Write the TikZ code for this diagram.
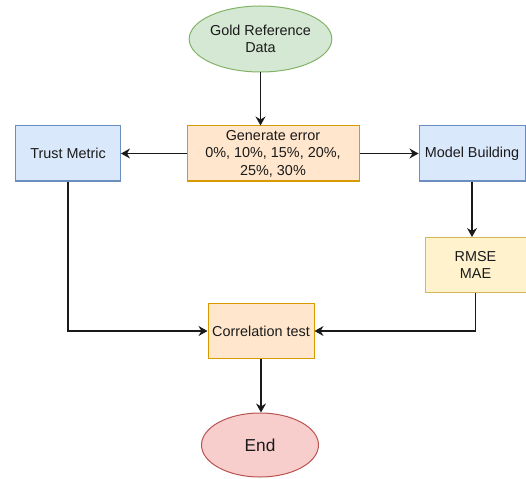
\documentclass[tikz,border=0pt]{standalone}
\usepackage{fontspec}
\setmainfont{Liberation Sans}
\usetikzlibrary{shapes.geometric,arrows.meta}
\definecolor{greenfill}{HTML}{D5E8D4}\definecolor{greenline}{HTML}{82B366}
\definecolor{orangefill}{HTML}{FFE6CC}\definecolor{orangeline}{HTML}{D79B00}
\definecolor{bluefill}{HTML}{DAE8FC}\definecolor{blueline}{HTML}{6C8EBF}
\definecolor{yellowfill}{HTML}{FFF2CC}\definecolor{yellowline}{HTML}{D6B656}
\definecolor{redfill}{HTML}{F8CECC}\definecolor{redline}{HTML}{B85450}
\definecolor{ink}{HTML}{1A1A1A}
\tikzset{
  base/.style={line width=1pt, inner sep=0pt, align=center, text=ink,
    font=\fontsize{14.4}{17.5}\selectfont},
  boxnode/.style={base, rectangle, minimum height=55pt},
  oval/.style={base, ellipse},
  flow/.style={line width=1.2pt, draw=ink,
    -{Stealth[length=9pt,width=10pt,inset=3pt]}},
}
\begin{document}
\begin{tikzpicture}[x=1pt,y=-1pt]
\useasboundingbox (0,0) rectangle (526,478);
\node[oval, fill=greenfill, draw=greenline, minimum width=116pt, minimum height=66pt]
  (gold) at (260.5,39) {Gold Reference\\Data};
\node[boxnode, fill=orangefill, draw=orangeline, minimum width=172pt]
  (gen) at (273,153.5) {Generate error\\0\%, 10\%, 15\%, 20\%,\\25\%, 30\%};
\node[boxnode, fill=bluefill, draw=blueline, minimum width=105pt]
  (trust) at (68,153.5) {Trust Metric};
\node[boxnode, fill=bluefill, draw=blueline, minimum width=106pt]
  (model) at (472,153.5) {Model Building};
\node[boxnode, fill=yellowfill, draw=yellowline, minimum width=101pt]
  (rmse) at (475.5,265) {RMSE\\MAE};
\node[boxnode, fill=orangefill, draw=orangeline, minimum width=106pt]
  (corr) at (261,331) {Correlation test};
\node[oval, fill=redfill, draw=redline, minimum width=117pt, minimum height=64pt,
  font=\fontsize{17.3}{20}\selectfont]
  (end) at (260,445) {End};

\draw[flow] (gold.south) -- (gold.south |- gen.north);
\draw[flow] (gen.west) -- (trust.east);
\draw[flow] (gen.east) -- (model.west);
\draw[flow] (model.south) -- (model.south |- rmse.north);
\draw[flow] (trust.south) |- (corr.west);
\draw[flow] (rmse.south) |- (corr.east);
\draw[flow] (corr.south) -- (corr.south |- end.north);
\end{tikzpicture}
\end{document}
